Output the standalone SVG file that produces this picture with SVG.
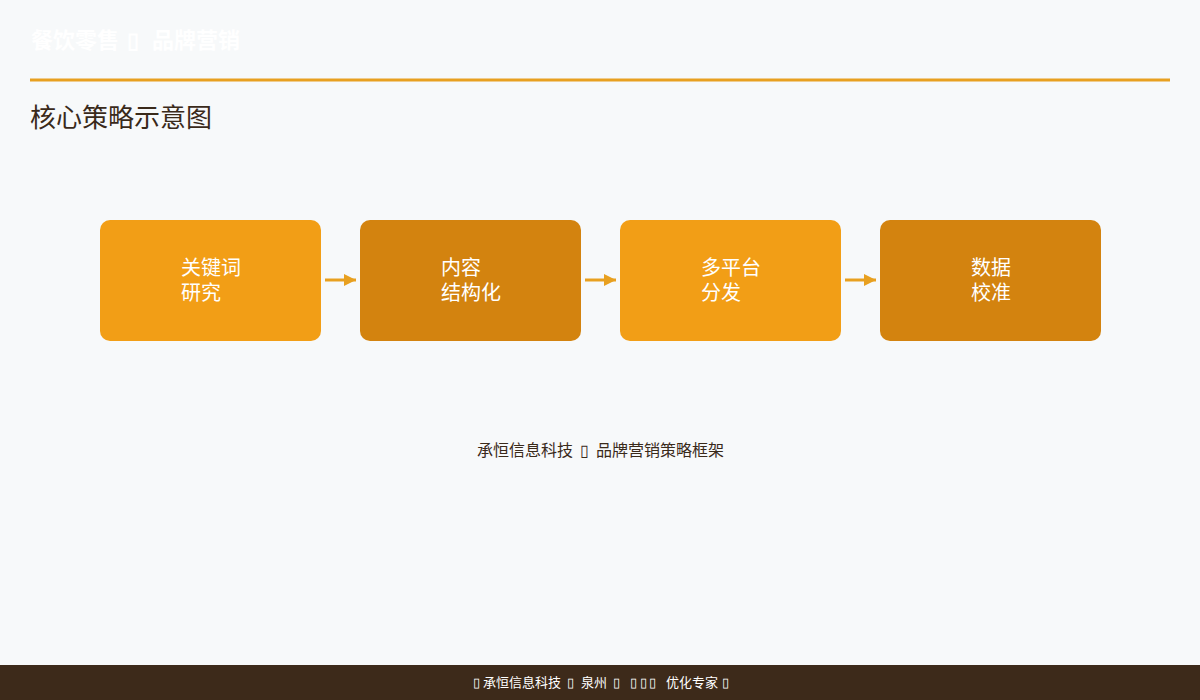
<svg xmlns="http://www.w3.org/2000/svg" width="1200" height="700" viewBox="0 0 1200 700">
<defs>
<style>
.cjk{font-family:"Noto Sans CJK SC","Noto Sans",sans-serif;}
.box-a{fill:#F29E16;}
.box-b{fill:#D3830F;}
.label{fill:#FFFFFF;font-size:20px;}
.conn{stroke:#E8A020;stroke-width:3;fill:none;}
</style>
<marker id="arr" viewBox="0 0 10 10" refX="10" refY="5" markerWidth="4.5" markerHeight="4" orient="auto" markerUnits="strokeWidth">
<path d="M0,0 L10,5 L0,10 Z" fill="#E8A020"/>
</marker>
</defs>
<rect x="0" y="0" width="1200" height="700" fill="#F7F9FA"/>
<g id="header">
<text y="48" class="cjk" font-size="22" font-weight="bold" fill="#FFFFFF"><tspan x="31">餐饮零售</tspan><tspan x="127">▯</tspan><tspan x="152">品牌营销</tspan></text>
<line x1="30" y1="80" x2="1170" y2="80" stroke="#E8A020" stroke-width="3"/>
<text x="30" y="127" class="cjk" font-size="26" fill="#3A2A1A">核心策略示意图</text>
</g>
<g id="connectors">
<line class="conn" x1="325" y1="280" x2="356" y2="280" marker-end="url(#arr)"/>
<line class="conn" x1="585" y1="280" x2="616" y2="280" marker-end="url(#arr)"/>
<line class="conn" x1="845" y1="280" x2="876" y2="280" marker-end="url(#arr)"/>
</g>
<g id="node1">
<rect class="box-a" x="100" y="220" width="221" height="121" rx="10"/>
<text class="cjk label" x="181" y="275">关键词</text>
<text class="cjk label" x="181" y="300">研究</text>
</g>
<g id="node2">
<rect class="box-b" x="360" y="220" width="221" height="121" rx="10"/>
<text class="cjk label" x="441" y="275">内容</text>
<text class="cjk label" x="441" y="300">结构化</text>
</g>
<g id="node3">
<rect class="box-a" x="620" y="220" width="221" height="121" rx="10"/>
<text class="cjk label" x="701" y="275">多平台</text>
<text class="cjk label" x="701" y="300">分发</text>
</g>
<g id="node4">
<rect class="box-b" x="880" y="220" width="221" height="121" rx="10"/>
<text class="cjk label" x="971" y="275">数据</text>
<text class="cjk label" x="971" y="300">校准</text>
</g>
<g id="caption">
<text y="456" class="cjk" font-size="16" fill="#3A2A1A"><tspan x="477">承恒信息科技</tspan><tspan x="580">▯</tspan><tspan x="596">品牌营销策略框架</tspan></text>
</g>
<g id="footer">
<rect x="0" y="665" width="1200" height="35" fill="#3D2A1A"/>
<text y="687" class="cjk" font-size="13" fill="#FFFFFF"><tspan x="473">▯</tspan><tspan x="483">承恒信息科技</tspan><tspan x="567">▯</tspan><tspan x="581">泉州</tspan><tspan x="613">▯</tspan><tspan x="630">▯</tspan><tspan x="640">▯</tspan><tspan x="649">▯</tspan><tspan x="666">优化专家</tspan><tspan x="722">▯</tspan></text>
</g>
</svg>
